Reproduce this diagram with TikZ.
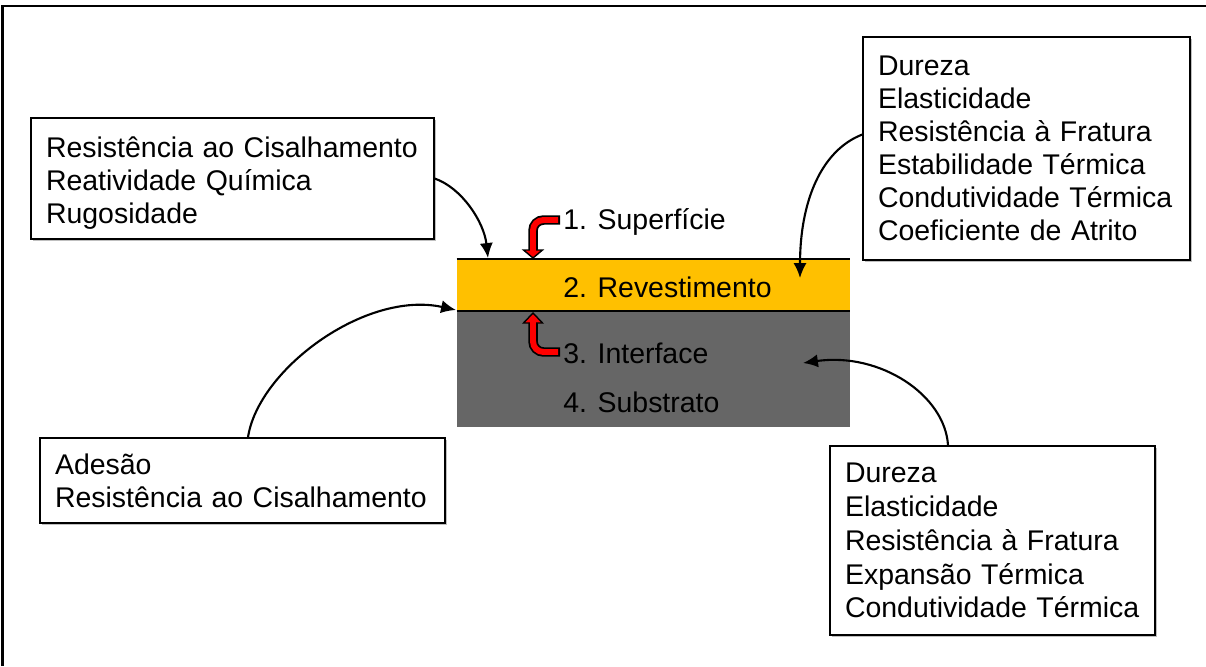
\documentclass[tikz,border=0pt]{standalone}
\usepackage{fontspec}
\setmainfont{Liberation Sans}
\usetikzlibrary{arrows.meta,shadows}
\definecolor{coatyellow}{HTML}{FFC000}
\definecolor{subsgray}{HTML}{666666}
\tikzset{
  infobox/.style={draw, fill=white, line width=0.8pt, align=left, inner xsep=0.3cm, inner ysep=0pt,
    font=\fontsize{16.2}{18.8}\selectfont,
    drop shadow={shadow xshift=0.04cm, shadow yshift=-0.04cm, opacity=0.5, fill=gray}},
  layerlbl/.style={anchor=base west, inner sep=0pt, font=\fontsize{16.2}{18.8}\selectfont},
  layer/.style={inner sep=0pt, minimum width=7.86cm},
  curvearrow/.style={-{Latex[length=8.5pt,width=7.5pt]}, line width=1.2pt},
  redout/.style={line width=5.4pt, draw=black, rounded corners=6pt},
  redin/.style={line width=3.4pt, draw=red, rounded corners=6pt},
  redhead/.style={fill=red, draw=black, line width=0.8pt, line join=miter}
}
\begin{document}
\begin{tikzpicture}[x=0.02cm, y=-0.02cm]
\useasboundingbox (0,0) rectangle (1206,666);
% frame
\draw[line width=1.7pt] (2,6) -- (1206,6);
\draw[line width=1.2pt] (2.5,666) -- (2.5,5);

% layers
\node[layer, fill=coatyellow, minimum height=1.04cm] (coat) at (653.5,285) {};
\node[layer, fill=subsgray, minimum height=2.32cm] (subs) at (653.5,369) {};
\draw[line width=1.1pt] (coat.north west) -- (coat.north east);
\draw[line width=1.1pt] (coat.south west) -- (coat.south east);

\node[layerlbl] (surflbl) at (563,229) {1. Superfície};
\node[layerlbl] (coatlbl) at (563,297) {2. Revestimento};
\node[layerlbl] (intlbl) at (563,363) {3. Interface};
\node[layerlbl] (subslbl) at (563,412) {4. Substrato};

% property boxes
\node[infobox, text width=7.46cm, minimum height=2.42cm] (tl) at (232.5,178.5)
  {\rule{0pt}{17pt}Resistência ao Cisalhamento\\Reatividade Química\\Rugosidade};
\node[infobox, text width=5.94cm, minimum height=4.46cm] (tr) at (1026.5,148.5)
  {Dureza\\Elasticidade\\Resistência à Fratura\\Estabilidade Térmica\\Condutividade Térmica\\Coeficiente de Atrito};
\node[infobox, text width=7.5cm, minimum height=1.7cm] (bl) at (242.5,480.5)
  {Adesão\\Resistência ao Cisalhamento};
\node[infobox, text width=5.9cm, minimum height=3.78cm,
  font=\fontsize{16.2}{19.3}\selectfont] (br) at (992.5,540.5)
  {Dureza\\Elasticidade\\Resistência à Fratura\\Expansão Térmica\\Condutividade Térmica};

% arrow ends
\coordinate (surfpt) at (488,258);
\coordinate (coatpt) at (800,278);
\coordinate (intpt) at (456,310);
\coordinate (subspt) at (803,363);

\draw[curvearrow] (tl.east) .. controls (462,188) and (484,222) .. (surfpt);
\draw[curvearrow] ([yshift=0.28cm]tr.west) .. controls (822,150) and (800,200) .. (coatpt);
\draw[curvearrow] ([xshift=0.11cm]bl.north) .. controls (258,370) and (365,290) .. (intpt);
\draw[curvearrow] ([xshift=-0.89cm]br.north) .. controls (945,395) and (880,352) .. (subspt);

% red bent arrows
\coordinate (s1) at (533,258);
\coordinate (s3) at (533,313);
\draw[redout] (560,220) -- (533,220) -- (533,250);
\filldraw[redhead] (523.5,250) -- (s1) -- (542.5,250) -- cycle;
\draw[redin] (558,220) -- (533,220) -- (533,253);

\draw[redout] (560,352) -- (533,352) -- (533,323);
\filldraw[redhead] (523.5,323) -- (s3) -- (542.5,323) -- cycle;
\draw[redin] (558,352) -- (533,352) -- (533,320);
\end{tikzpicture}
\end{document}
